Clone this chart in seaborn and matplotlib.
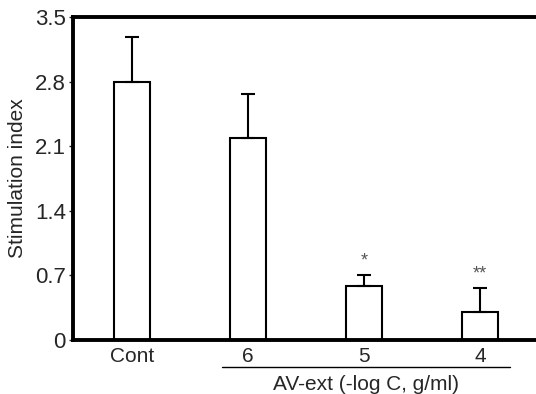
import matplotlib
matplotlib.use("Agg")
import matplotlib.pyplot as plt
import seaborn as sns
import pandas as pd

categories = ["Cont", "6", "5", "4"]
values = [2.79, 2.19, 0.585, 0.30]
errors = [0.49, 0.47, 0.12, 0.26]
marks = ["", "", "*", "**"]
yticks = [0, 0.7, 1.4, 2.1, 2.8, 3.5]

sns.set_style("white")
plt.rcParams['font.family'] = ['Liberation Sans', 'DejaVu Sans']

fig = plt.figure(figsize=(5.36, 3.94), dpi=100)
ax = fig.add_axes([0.136, 0.137, 0.864, 0.82])

df = pd.DataFrame({"cat": categories, "val": values})
sns.barplot(data=df, x="cat", y="val", ax=ax, color="white", edgecolor="black",
            linewidth=1.5, width=0.31, errorbar=None)
xs = list(range(len(categories)))
ax.errorbar(xs, values, yerr=[[0]*len(errors), errors], fmt="none",
            ecolor="black", elinewidth=1.5, capsize=5.2, capthick=1.5)
for x, v, e, m in zip(xs, values, errors, marks):
    if m:
        ax.text(x, v + e + 0.06, m, ha="center", va="bottom", fontsize=13, color="#555555")

ax.set_xlim(-0.51, 3.48)
ax.set_ylim(0, 3.5)
ax.set_yticks(yticks)
ax.set_yticklabels(["0", "0.7", "1.4", "2.1", "2.8", "3.5"], fontsize=16)
ax.set_xticks(xs)
ax.set_xticklabels(categories, fontsize=15)
ax.tick_params(axis="x", length=0, pad=5)
ax.tick_params(axis="y", length=3, width=1, direction="out", left=True, pad=2)
ax.set_xlabel("")
ax.set_ylabel("Stimulation index", fontsize=15, labelpad=6)

for s in ["left", "top", "bottom"]:
    ax.spines[s].set_linewidth(2.8)
    ax.spines[s].set_color("black")
ax.spines["right"].set_visible(False)

# group line and label
fig.add_artist(plt.Line2D([222/536, 510/536], [1-367/394, 1-367/394], color="black", lw=1))
fig.text(366/536, 1-384/394, "AV-ext (-log C, g/ml)", ha="center", va="center", fontsize=15)

fig.savefig("out.png", dpi=100)
